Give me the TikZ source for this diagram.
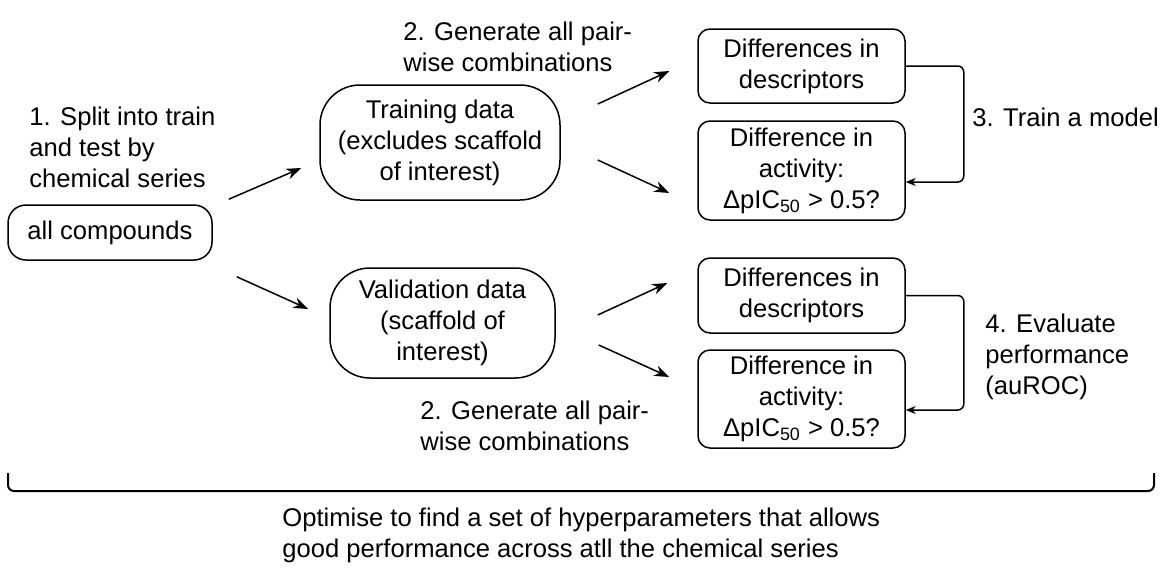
\documentclass[tikz,border=0pt]{standalone}
\usepackage{fontspec}
\setmainfont{Liberation Sans}
\usetikzlibrary{arrows.meta,calc}

\begin{document}
\begin{tikzpicture}[x=0.5pt,y=-0.5pt]
		\tikzstyle{every node}=[font=\fontsize{12.8}{15.5}\selectfont]
		\tikzstyle{box}=[draw, line width=0.75pt, align=center, inner sep=0pt]
		\tikzstyle{txt}=[align=left, anchor=west, inner sep=0pt]
		\tikzstyle{arr}=[line width=0.75pt, -{Stealth[length=7.5pt,width=5.5pt]}]
		\tikzstyle{link}=[line width=0.75pt, rounded corners=3pt, -{Stealth[length=5pt,width=4pt]}]
		\useasboundingbox (0,0) rectangle (1162,568);
		% boxes
		\node [box, rounded corners=9pt, minimum width=102pt, minimum height=27.5pt] (all) at (110,232.5) {all compounds};
		\node [box, rounded corners=20pt, minimum width=120pt, minimum height=57.5pt] (train) at (440,142.5) {Training data\\(excludes scaffold\\of interest)};
		\node [box, rounded corners=20pt, minimum width=112.5pt, minimum height=55pt] (valid) at (442.5,323) {Validation data\\(scaffold of\\interest)};
		\node [box, rounded corners=6pt, minimum width=103.5pt, minimum height=37pt] (desc1) at (801.5,66) {Differences in\\descriptors};
		\node [box, rounded corners=6pt, minimum width=103.5pt, minimum height=49.5pt] (act1) at (801.5,170.5) {Difference in\\activity:\\ΔpIC\textsubscript{50} > 0.5?};
		\node [box, rounded corners=6pt, minimum width=103.5pt, minimum height=37.5pt] (desc2) at (801.5,295.5) {Differences in\\descriptors};
		\node [box, rounded corners=6pt, minimum width=103.5pt, minimum height=49pt] (act2) at (801.5,399) {Difference in\\activity:\\ΔpIC\textsubscript{50} > 0.5?};
		% labels
		\node [txt] (split) at (29,147) {1. Split into train\\and test by\\chemical series};
		\node [txt] (gen1) at (403,47) {2. Generate all pair-\\wise combinations};
		\node [txt] (gen2) at (420,426) {2. Generate all pair-\\wise combinations};
		\node [txt] (model) at (972,117) {3. Train a model};
		\node [txt] (eval) at (985,357) {4. Evaluate\\performance\\(auROC)};
		\node [txt] (optim) at (282,535) {Optimise to find a set of hyperparameters that allows\\good performance across atll the chemical series};
		% arrows
		\draw [arr] ([shift={(16,-5)}]all.north east) -- ([shift={(-18,25.5)}]train.west);
		\draw [arr] ([shift={(24,16)}]all.south east) -- ([shift={(-21,-14)}]valid.west);
		\draw [arr] ([shift={(37,-38.5)}]train.east) -- ([shift={(-28,5)}]desc1.west);
		\draw [arr] ([shift={(37,17.5)}]train.east) -- ([shift={(-28,22.5)}]act1.west);
		\draw [arr] ([shift={(42,-8)}]valid.east) -- ([shift={(-30,-12.5)}]desc2.west);
		\draw [arr] ([shift={(43,22)}]valid.east) -- ([shift={(-28,-22)}]act2.west);
		\draw [link] (desc1.east) -- ++(58,0) |- ([yshift=-5.75pt]act1.east);
		\draw [link] (desc2.east) -- ++(58,0) |- ([yshift=-5.5pt]act2.east);
		% bracket
		\coordinate (brL) at (8,473);
		\coordinate (brR) at (1154,473);
		\draw [line width=1pt, rounded corners=3pt] (brL) |- (1154,491) -- (brR);
	\end{tikzpicture}
\end{document}
